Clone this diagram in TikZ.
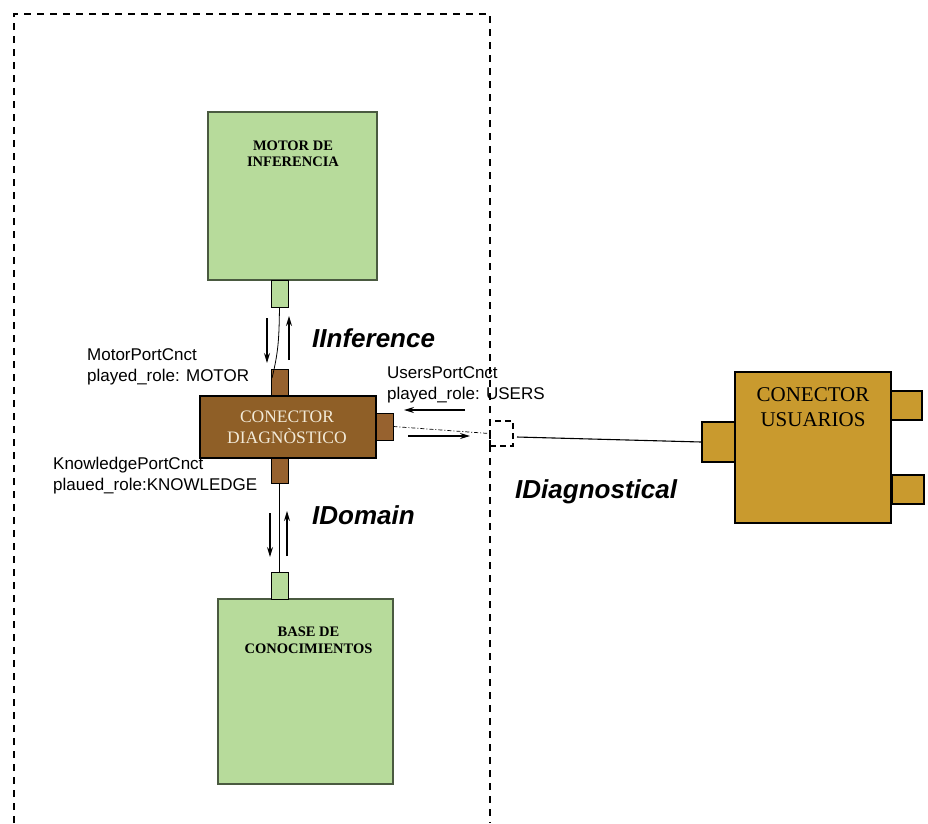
\documentclass[tikz,border=0pt]{standalone}
\usepackage{fontspec}
\setmainfont{Liberation Serif}
\setsansfont{Liberation Sans}
\usetikzlibrary{arrows.meta}
\definecolor{leaf}{HTML}{B7DB9B}
\definecolor{leafedge}{HTML}{4A5A40}
\definecolor{bark}{HTML}{8F5F27}
\definecolor{barkport}{HTML}{97622F}
\definecolor{gold}{HTML}{C99A2E}
\definecolor{cream}{HTML}{F2EAD8}
\begin{document}
\begin{tikzpicture}[x=1pt,y=-1pt,
  comp/.style={draw=leafedge,line width=1.1pt,fill=leaf,inner sep=0pt,minimum width=#1},
  gport/.style={draw=black,line width=0.9pt,fill=leaf,inner sep=0pt,minimum width=17pt,minimum height=27pt},
  bport/.style={draw=black,line width=0.9pt,fill=barkport,inner sep=0pt,minimum width=17pt,minimum height=27pt},
  uport/.style={draw=black,line width=1.1pt,fill=gold,inner sep=0pt},
  title/.style={font=\bfseries\fontsize{14.5}{16.5}\selectfont,align=center,inner sep=0pt},
  role/.style={font=\sffamily\fontsize{17}{21}\selectfont,align=left,inner sep=0pt,anchor=west},
  iface/.style={font=\sffamily\bfseries\itshape\fontsize{26}{28}\selectfont,inner sep=0pt,anchor=west},
  flow/.style={-{Stealth[length=10pt,width=6pt]},line width=1.2pt},
  fence/.style={line width=1.5pt,dash pattern=on 7pt off 6pt}]
\useasboundingbox (0,0) rectangle (928,823);

% boundary of the diagnostic subsystem (open at the bottom)
\draw[fence] (14,823) -- (14,14) -- (490,14) -- (490,823);

% inference engine and its port
\node[comp=169pt,minimum height=168pt] (motor) at (292.5,196) {};
\node[title] (motortxt) at (293,154) {MOTOR DE\\INFERENCIA};
\node[gport] (mport) at (279.5,293.5) {};

% knowledge base and its port
\node[comp=175pt,minimum height=185pt] (base) at (305.5,691.5) {};
\node[title] (basetxt) at (308.5,640.5) {BASE DE\\CONOCIMIENTOS};
\node[gport] (bport) at (279.5,585.5) {};

% diagnostic connector with its three ports
\node[bport] (ctop) at (279.5,382.5) {};
\node[bport,minimum height=25pt] (cbot) at (279.5,470.5) {};
\node[bport] (cright) at (384.5,426.5) {};
\node[draw=black,line width=1.1pt,fill=bark,minimum width=176pt,minimum height=62pt,inner sep=0pt] (diag) at (288,427) {};
\node[font=\fontsize{17.5}{21}\selectfont,text=cream,align=center,inner sep=0pt] (diagtxt) at (287,427) {CONECTOR\\DIAGNÒSTICO};

% users connector with its ports
\node[uport,minimum width=33pt,minimum height=40pt] (uleft) at (718.5,442) {};
\node[uport,minimum width=32pt,minimum height=29pt] (uright1) at (906,405.5) {};
\node[uport,minimum width=32pt,minimum height=29pt] (uright2) at (908,489.5) {};
\node[uport,minimum width=156pt,minimum height=151pt] (users) at (813,447.5) {};
\node[font=\fontsize{21}{25}\selectfont,align=center,inner sep=0pt] (userstxt) at (813,407) {CONECTOR\\USUARIOS};

% boundary port where the subsystem is exposed
\node[draw=black,line width=1.4pt,dash pattern=on 6pt off 4pt,minimum width=23pt,minimum height=25pt,inner sep=0pt] (edge) at (501.5,433.5) {};

% attachments
\coordinate (mend) at (272,378);
\draw[line width=0.8pt] (mport.south) .. controls (279,335) and (279,350) .. (mend);
\draw[line width=0.8pt] (cbot.south) -- (bport.north);
\draw[line width=0.7pt,dash pattern=on 4pt off 2pt on 1pt off 2pt] (cright.east) -- (edge.west);
\coordinate (wire) at (517,437);
\draw[line width=1.1pt] (wire) -- (uleft.west);

% message flow arrows
\draw[flow] (267,318) -- (267,363);
\draw[flow] (289,360) -- (289,316);
\draw[flow] (270,513) -- (270,557);
\draw[flow] (287,556) -- (287,511);
\draw[flow] (465,410) -- (404,410);
\draw[flow] (408,436) -- (470,436);

% port and interface labels
\node[role] (mlabel) at (87,367) {MotorPortCnct\\played\_role: MOTOR};
\node[role] (klabel) at (53,476) {KnowledgePortCnct\\plaued\_role:KNOWLEDGE};
\node[role] (ulabel) at (387,385) {UsersPortCnct\\played\_role: USERS};
\node[iface] (iinf) at (312,338) {IInference};
\node[iface] (idom) at (312,515) {IDomain};
\node[iface] (idiag) at (515,492) {IDiagnostical};
\end{tikzpicture}
\end{document}
